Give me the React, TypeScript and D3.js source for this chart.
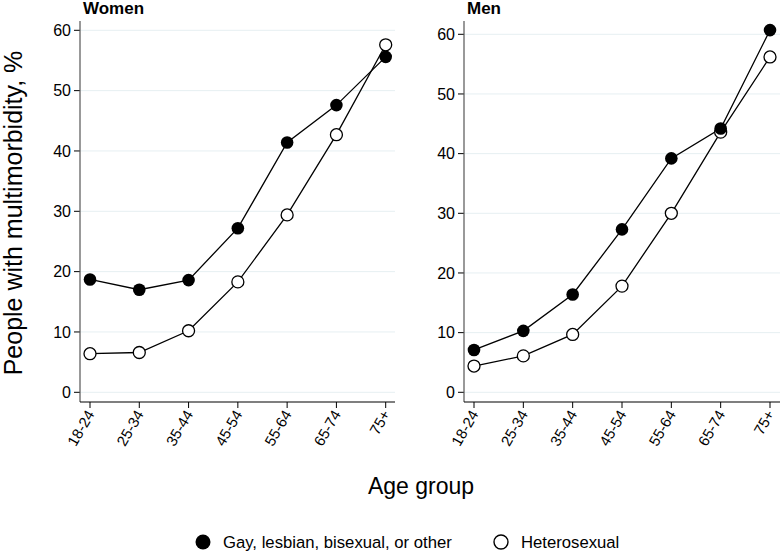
import React from "react";
import * as d3 from "d3";

const ageGroups = ["18-24", "25-34", "35-44", "45-54", "55-64", "65-74", "75+"];
const womenGLB = [18.7, 17.0, 18.6, 27.2, 41.4, 47.6, 55.6];
const womenHet = [6.4, 6.6, 10.2, 18.3, 29.4, 42.7, 57.6];
const menGLB = [7.1, 10.3, 16.4, 27.3, 39.2, 44.2, 60.7];
const menHet = [4.4, 6.1, 9.7, 17.8, 30.0, 43.6, 56.2];
const yTicks = [0, 10, 20, 30, 40, 50, 60];
const seriesNames = ["Gay, lesbian, bisexual, or other", "Heterosexual"];

const FONT = "Liberation Sans, Arial, sans-serif";

type PanelProps = {
  title: string;
  glb: number[];
  het: number[];
  axisX: number;
  firstX: number;
  lastX: number;
  rightX: number;
  yMaxVal: number;
  yMaxPx: number;
};

function Panel({ title, glb, het, axisX, firstX, lastX, rightX, yMaxVal, yMaxPx }: PanelProps) {
  const x = d3.scalePoint<string>().domain(ageGroups).range([firstX, lastX]);
  const y = d3.scaleLinear().domain([0, yMaxVal]).range([392.3, yMaxPx]);
  const axisY = 402;
  const topY = 21;
  const line = d3
    .line<number>()
    .x((_, i) => x(ageGroups[i]) as number)
    .y((d) => y(d))
    .curve(d3.curveLinear);
  return (
    <g>
      <text x={axisX + 3} y={13.5} fontFamily={FONT} fontWeight="bold" fontSize={17}>
        {title}
      </text>
      {yTicks.map((t) => (
        <g key={t}>
          <line x1={axisX} x2={rightX} y1={y(t)} y2={y(t)} stroke="#e6eff2" strokeWidth={1} />
          <line x1={axisX - 6} x2={axisX} y1={y(t)} y2={y(t)} stroke="#000" strokeWidth={1} />
          <text
            x={axisX - 9}
            y={y(t)}
            dy="0.35em"
            textAnchor="end"
            fontFamily={FONT}
            fontSize={16}
          >
            {t}
          </text>
        </g>
      ))}
      <line x1={axisX} x2={axisX} y1={topY} y2={axisY} stroke="#555" strokeWidth={1.2} />
      <line x1={axisX} x2={rightX} y1={axisY} y2={axisY} stroke="#000" strokeWidth={1.2} />
      {ageGroups.map((g) => (
        <g key={g}>
          <line x1={x(g)} x2={x(g)} y1={axisY} y2={axisY + 6} stroke="#000" strokeWidth={1} />
          <text
            transform={`translate(${(x(g) as number) + 5},${axisY + 12}) rotate(-60)`}
            textAnchor="end"
            fontFamily={FONT}
            fontSize={15}
          >
            {g}
          </text>
        </g>
      ))}
      <path d={line(glb) || ""} fill="none" stroke="#000" strokeWidth={1.3} />
      <path d={line(het) || ""} fill="none" stroke="#000" strokeWidth={1.3} />
      {het.map((v, i) => (
        <circle key={"h" + i} cx={x(ageGroups[i])} cy={y(v)} r={6} fill="#fff" stroke="#000" strokeWidth={1.3} />
      ))}
      {glb.map((v, i) => (
        <circle key={"g" + i} cx={x(ageGroups[i])} cy={y(v)} r={6.3} fill="#000" />
      ))}
    </g>
  );
}

export default function App() {
  return (
    <svg
      width={780}
      height={552}
      style={{ position: "absolute", left: 0, top: 0, background: "#fff" }}
    >
      <rect width={780} height={552} fill="#fff" />
      <Panel
        title="Women"
        glb={womenGLB}
        het={womenHet}
        axisX={80}
        firstX={90}
        lastX={385.7}
        rightX={395}
        yMaxVal={60}
        yMaxPx={30.3}
      />
      <Panel
        title="Men"
        glb={menGLB}
        het={menHet}
        axisX={464}
        firstX={474}
        lastX={770}
        rightX={780}
        yMaxVal={60}
        yMaxPx={34.3}
      />
      <text
        transform="translate(21.5,213) rotate(-90)"
        textAnchor="middle"
        fontFamily={FONT}
        fontSize={25}
      >
        People with multimorbidity, %
      </text>
      <text x={421} y={494} textAnchor="middle" fontFamily={FONT} fontSize={23}>
        Age group
      </text>
      <circle cx={203} cy={542} r={7.5} fill="#000" />
      <text x={223} y={542} dy="0.35em" fontFamily={FONT} fontSize={16.7}>
        {seriesNames[0]}
      </text>
      <circle cx={501} cy={542} r={7} fill="#fff" stroke="#000" strokeWidth={1.4} />
      <text x={521} y={542} dy="0.35em" fontFamily={FONT} fontSize={16.7}>
        {seriesNames[1]}
      </text>
    </svg>
  );
}
